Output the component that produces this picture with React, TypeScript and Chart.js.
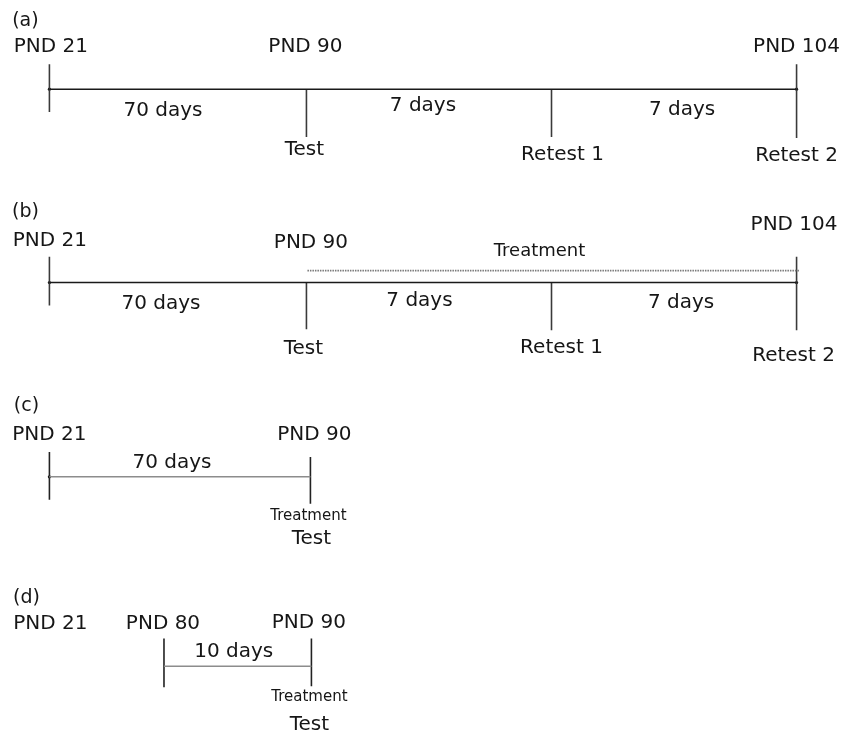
import { useEffect, useRef } from 'react';
import { Chart, registerables } from 'chart.js';

Chart.register(...registerables);

// ---------------- DATA ----------------
const panelTags = ['(a)', '(b)', '(c)', '(d)'];

const pndA = [21, 90, 104];
const daysA = [70, 7, 7];
const eventsA = ['Test', 'Retest 1', 'Retest 2'];

const pndB = [21, 90, 104];
const daysB = [70, 7, 7];
const eventsB = ['Test', 'Retest 1', 'Retest 2'];
const treatmentB = 'Treatment';

const pndC = [21, 90];
const daysC = [70];
const eventsC = ['Treatment', 'Test'];

const pndD = [21, 80, 90];
const daysD = [10];
const eventsD = ['Treatment', 'Test'];

// ---------------- LAYOUT (schematic, not to scale) ----------------
const X_UNIT_PX = 250; // px per schematic step
const X_ORIGIN_PX = 48;
const ROW_PX = 193.2;
const ROW_ORIGIN_PX = 88;
const W = 843;
const H = 733;

const ROWS = [0, 1.005, 2.015, 3];
const NODES_AB = [0, 1.032, 2.016, 3];
const NODES_C = [0, 1.048];
const NODES_D = [0, 0.46, 1.052];

const FONT = '"DejaVu Sans", Verdana, sans-serif';
const TEXT_COLOR = '#161616';

type TextItem = { t: string; x: number; row: number; dx: number; dy: number; size: number };
type Seg = { x0: number; y0: number; x1: number; y1: number; color: string; width: number; dash?: number[] };

const px = (p: number) => p / ROW_PX;

function buildScene() {
  const texts: TextItem[] = [];
  const segs: Seg[] = [];
  const dots: { x: number; y: number }[] = [];
  const mid = (n: number[], i: number) => (n[i] + n[i + 1]) / 2;

  // ---- (a) ----
  {
    const r = ROWS[0], n = NODES_AB;
    texts.push({ t: panelTags[0], x: n[0], row: r, dx: -24, dy: -68, size: 19 });
    const pNodes = [0, 1, 3], pDx = [1.5, -1, 0], pDy = [-42, -42, -42];
    pndA.forEach((v, i) => texts.push({ t: 'PND ' + v, x: n[pNodes[i]], row: r, dx: pDx[i], dy: pDy[i], size: 20 }));
    const dDx = [-15, -6, 8], dDy = [22, 17, 21];
    daysA.forEach((v, i) => texts.push({ t: v + ' days', x: mid(n, i), row: r, dx: dDx[i], dy: dDy[i], size: 20 }));
    const eDx = [-2, 11, 0], eDy = [61, 66, 67];
    eventsA.forEach((v, i) => texts.push({ t: v, x: n[i + 1], row: r, dx: eDx[i], dy: eDy[i], size: 20 }));
    segs.push({ x0: n[0], y0: r, x1: n[3], y1: r, color: '#1a1a1a', width: 1.6 });
    const ticks = [[-25, 23], [0, 48], [0, 48], [-25, 49]];
    ticks.forEach((tk, i) => segs.push({ x0: n[i], y0: r + px(tk[0]), x1: n[i], y1: r + px(tk[1]), color: '#3a3a3a', width: 1.6 }));
    dots.push({ x: n[0], y: r }, { x: n[3], y: r });
  }

  // ---- (b) ----
  {
    const r = ROWS[1], n = NODES_AB;
    texts.push({ t: panelTags[1], x: n[0], row: r, dx: -24, dy: -70, size: 19 });
    const pNodes = [0, 1, 3], pDx = [0.5, 4.5, -2.5], pDy = [-42, -40, -58];
    pndB.forEach((v, i) => texts.push({ t: 'PND ' + v, x: n[pNodes[i]], row: r, dx: pDx[i], dy: pDy[i], size: 20 }));
    texts.push({ t: treatmentB, x: (n[1] + n[3]) / 2, row: r, dx: -12, dy: -31, size: 18 });
    const dDx = [-17, -9.5, 7], dDy = [21, 18, 20];
    daysB.forEach((v, i) => texts.push({ t: v + ' days', x: mid(n, i), row: r, dx: dDx[i], dy: dDy[i], size: 20 }));
    const eDx = [-3, 10, -3], eDy = [66, 65, 73];
    eventsB.forEach((v, i) => texts.push({ t: v, x: n[i + 1], row: r, dx: eDx[i], dy: eDy[i], size: 20 }));
    segs.push({ x0: n[0], y0: r, x1: n[3], y1: r, color: '#1a1a1a', width: 1.6 });
    segs.push({ x0: n[1] + 0.004, y0: r + px(-12), x1: n[3] + 0.012, y1: r + px(-12), color: '#7a7a7a', width: 1.6, dash: [1.5, 1] });
    const ticks = [[-26, 23], [0, 47], [0, 48], [-26, 48]];
    ticks.forEach((tk, i) => segs.push({ x0: n[i], y0: r + px(tk[0]), x1: n[i], y1: r + px(tk[1]), color: '#3a3a3a', width: 1.6 }));
    dots.push({ x: n[0], y: r }, { x: n[3], y: r });
  }

  // ---- (c) ----
  {
    const r = ROWS[2], n = NODES_C;
    texts.push({ t: panelTags[2], x: n[0], row: r, dx: -23, dy: -71, size: 19 });
    const pDx = [0, 4];
    pndC.forEach((v, i) => texts.push({ t: 'PND ' + v, x: n[i], row: r, dx: pDx[i], dy: -42, size: 20 }));
    daysC.forEach((v, i) => texts.push({ t: v + ' days', x: mid(n, i), row: r, dx: -8, dy: -14, size: 20 }));
    texts.push({ t: eventsC[0], x: n[1], row: r, dx: -2, dy: 39, size: 15 });
    texts.push({ t: eventsC[1], x: n[1], row: r, dx: 1, dy: 61.5, size: 20 });
    segs.push({ x0: n[0], y0: r, x1: n[1], y1: r, color: '#8c8c8c', width: 1.5 });
    const ticks = [[-25, 23], [-20, 27]];
    ticks.forEach((tk, i) => segs.push({ x0: n[i], y0: r + px(tk[0]), x1: n[i], y1: r + px(tk[1]), color: '#222222', width: 1.6 }));
    dots.push({ x: n[0], y: r });
  }

  // ---- (d) ----
  {
    const r = ROWS[3], n = NODES_D;
    texts.push({ t: panelTags[3], x: n[0], row: r, dx: -23, dy: -68, size: 19 });
    const pDx = [1, -1, -2.5], pDy = [-42, -42, -43];
    pndD.forEach((v, i) => texts.push({ t: 'PND ' + v, x: n[i], row: r, dx: pDx[i], dy: pDy[i], size: 20 }));
    daysD.forEach((v, i) => texts.push({ t: v + ' days', x: mid(n, i + 1), row: r, dx: -4, dy: -14, size: 20 }));
    texts.push({ t: eventsD[0], x: n[2], row: r, dx: -2, dy: 31, size: 15 });
    texts.push({ t: eventsD[1], x: n[2], row: r, dx: -2, dy: 58.5, size: 20 });
    segs.push({ x0: n[1], y0: r, x1: n[2], y1: r, color: '#8c8c8c', width: 1.5 });
    const ticks = [[-28, 21], [-28, 20]];
    ticks.forEach((tk, i) => segs.push({ x0: n[i + 1], y0: r + px(tk[0]), x1: n[i + 1], y1: r + px(tk[1]), color: '#222222', width: 1.6 }));
  }

  return { texts, segs, dots };
}

export default function App() {
  const ref = useRef<HTMLCanvasElement | null>(null);

  useEffect(() => {
    if (!ref.current) return;
    const { texts, segs, dots } = buildScene();

    const datasets: any[] = segs.map((s) => ({
      data: [{ x: s.x0, y: s.y0 }, { x: s.x1, y: s.y1 }],
      showLine: true,
      borderColor: s.color,
      borderWidth: s.width,
      borderDash: s.dash || [],
      borderCapStyle: 'butt',
      pointRadius: 0,
      pointHoverRadius: 0,
      fill: false,
    }));
    datasets.push({
      data: dots,
      showLine: false,
      pointRadius: 1.6,
      pointBackgroundColor: '#111',
      pointBorderWidth: 0,
      pointHoverRadius: 0,
    });

    const textPlugin = {
      id: 'schemeText',
      afterDatasetsDraw(chart: any) {
        const ctx = chart.ctx;
        const xs = chart.scales.x;
        const ys = chart.scales.y;
        ctx.save();
        ctx.fillStyle = TEXT_COLOR;
        ctx.textAlign = 'center';
        ctx.textBaseline = 'middle';
        texts.forEach((t) => {
          ctx.font = `${t.size}px ${FONT}`;
          ctx.fillText(t.t, xs.getPixelForValue(t.x) + t.dx, ys.getPixelForValue(t.row) + t.dy);
        });
        ctx.restore();
      },
    };

    const xMin = -X_ORIGIN_PX / X_UNIT_PX;
    const xMax = xMin + W / X_UNIT_PX;
    const yMin = -ROW_ORIGIN_PX / ROW_PX;
    const yMax = yMin + H / ROW_PX;

    const chart = new Chart(ref.current, {
      type: 'scatter',
      data: { datasets },
      options: {
        animation: false,
        responsive: false,
        devicePixelRatio: 1,
        layout: { padding: 0 },
        events: [],
        scales: {
          x: { type: 'linear', min: xMin, max: xMax, display: false },
          y: { type: 'linear', min: yMin, max: yMax, reverse: true, display: false },
        },
        plugins: { legend: { display: false }, tooltip: { enabled: false } },
      },
      plugins: [textPlugin],
    } as any);

    return () => chart.destroy();
  }, []);

  return (
    <div style={{ position: 'fixed', left: 0, top: 0, width: W, height: H, background: '#fff' }}>
      <canvas ref={ref} width={W} height={H} style={{ display: 'block' }} />
    </div>
  );
}
